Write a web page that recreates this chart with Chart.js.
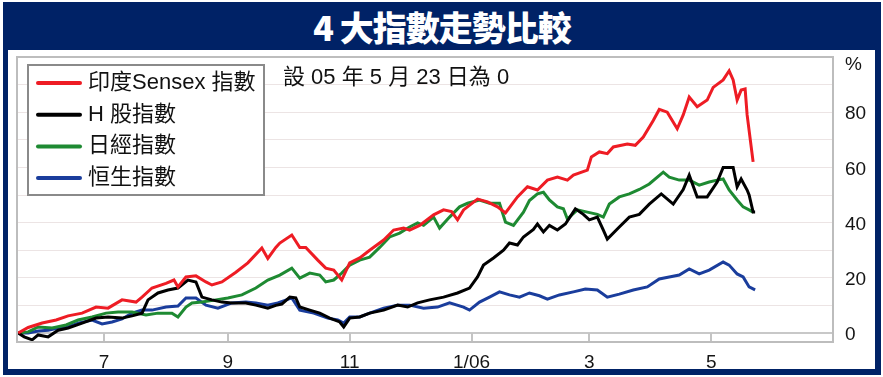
<!DOCTYPE html>
<html lang="zh-Hant">
<head>
<meta charset="utf-8">
<title>4 大指數走勢比較</title>
<script src="https://cdn.jsdelivr.net/npm/chart.js@4.4.1/dist/chart.umd.min.js"></script>
<style>
  html, body { margin: 0; padding: 0; background: #fff; }
  #wrap { position: relative; width: 883px; height: 377px; overflow: hidden; background: #fff; }
  #marco { position: absolute; left: 3px; top: 2px; width: 878px; height: 373px; background: #002266; }
  #interior { position: absolute; left: 8px; top: 50px; width: 867px; height: 319px; background: #fff; }
  #titulo {
    position: absolute; left: 3px; top: 2px; width: 878px; height: 48px;
    line-height: 48px; text-align: center; color: #fff;
    font: 900 34px "Noto Sans CJK TC", sans-serif; letter-spacing: -1px;
  }
  #grafico { position: absolute; left: 0; top: 0; }
</style>
</head>
<body>
<div id="wrap">
  <div id="marco"></div>
  <div id="interior"></div>
  <div id="titulo">4 大指數走勢比較</div>
  <canvas id="grafico" width="883" height="377"></canvas>
</div>
<script>
// days counted from 2005-05-23 (= 0), values in %
let sensexDays = [-4, 1, 8, 15, 21, 28, 35, 41, 48, 55, 58, 63, 70, 74, 76, 80, 85, 90, 93, 98,
  105, 111, 118, 121, 125, 127, 133, 137, 140, 146, 150, 154, 158, 162, 167, 172, 179, 184, 189, 192,
  197, 204, 209, 213, 216, 219, 226, 231, 236, 240, 246, 251, 256, 261, 266, 271, 274, 281, 283, 287,
  291, 294, 301, 305, 309, 314, 317, 321, 326, 329, 332, 336, 341, 344, 349, 352, 354, 356, 358, 360,
  361, 364];
let sensexValues = [0, 2, 3.6, 4.7, 6.2, 7.2, 9.4, 9, 12, 11.2, 13, 16.3, 18, 19.2, 16.7, 20.3, 20.7, 18.5, 17.4, 18.5,
  22, 25.4, 30.8, 27, 31, 32.6, 35.5, 31, 31, 26.4, 23.5, 22.8, 19.2, 25.4, 27.2, 30, 33.7, 37.3, 38, 37.3,
  39, 42.8, 44.6, 44, 41, 44.6, 48.5, 47.5, 45.7, 43.5, 49.3, 53, 51.8, 55.4, 56.5, 55.4, 57.2, 59, 63.8, 65.6,
  65, 67.4, 68.5, 68, 71, 77, 81, 80, 74, 79, 85.5, 82, 84.4, 89, 91.7, 95, 91.7, 84.4, 88, 88.4,
  79, 62];

let hDays = [-4, -1, 3, 6, 11, 16, 21, 28, 35, 41, 48, 53, 58, 61, 66, 71, 76, 81, 85, 88,
  93, 98, 103, 110, 115, 121, 125, 128, 132, 135, 137, 142, 147, 152, 157, 159, 162, 167, 172, 179,
  186, 191, 196, 202, 209, 216, 222, 226, 229, 234, 239, 242, 246, 249, 254, 256, 259, 262, 266, 270,
  275, 279, 282, 286, 289, 291, 297, 302, 307, 312, 318, 324, 329, 332, 336, 341, 346, 349, 354, 356,
  358, 361, 362, 364, 365];
let hValues = [0, -1.4, -2.5, -0.7, -1.4, 1, 1.8, 3.6, 5.4, 5.8, 5.4, 6.2, 7.2, 12, 14.5, 15.6, 16.3, 19.2, 18.5, 13,
  12, 11.2, 10.9, 10.9, 10.1, 9, 10, 10.5, 13, 12.7, 9.4, 8.3, 7.2, 5.4, 4, 2.2, 5.4, 5.8, 7.2, 8.3,
  10.1, 9.4, 10.9, 12, 13, 14.5, 16.3, 20.3, 24.6, 27.2, 30, 32.6, 31.9, 34.8, 37.5, 39.5, 36.6, 39, 37.3, 39.5,
  45, 43, 41, 42, 37.3, 34, 38.4, 42, 43, 46.7, 50.4, 46.7, 52, 57.2, 49.3, 49.3, 54.7, 60, 60, 53,
  55.8, 51.8, 50, 43.8, 43.8];

let nikkeiDays = [-4, 1, 6, 13, 20, 26, 33, 40, 46, 53, 60, 66, 73, 76, 80, 83, 88, 95, 101, 108,
  115, 121, 127, 133, 137, 142, 147, 150, 154, 158, 162, 167, 172, 177, 182, 187, 192, 196, 199, 204,
  207, 212, 217, 221, 227, 232, 237, 240, 244, 249, 252, 256, 259, 262, 266, 269, 271, 276, 281, 286,
  289, 292, 297, 302, 307, 312, 319, 322, 327, 332, 337, 342, 346, 349, 352, 356, 359, 362, 364];
let nikkeiValues = [0, 0.4, 2.2, 1.8, 2.9, 4.7, 5.8, 7.2, 7.6, 7.6, 6.5, 7.2, 7.2, 5.8, 9.4, 10.9, 11.2, 12, 12.7, 13.8,
  16.3, 19.2, 21, 23.5, 19.9, 21.7, 21, 18.5, 19.2, 21.7, 24.6, 26.4, 27.5, 31, 34.8, 36.2, 38.4, 39.9, 39, 42,
  38, 42, 45.7, 47, 48.2, 47, 47, 40.2, 39, 43.8, 48, 50.4, 51, 48.2, 45.7, 45, 41.3, 44.6, 43.8, 43,
  42, 46.7, 49.3, 50.4, 52, 54, 58.3, 56.5, 55.4, 55.4, 53.6, 54.7, 55.4, 55.8, 51.8, 48.2, 45.7, 44.6, 43.8];

let hsiDays = [-4, 1, 6, 11, 16, 21, 26, 33, 38, 43, 48, 53, 58, 63, 70, 76, 80, 85, 90, 96,
  103, 110, 115, 121, 126, 133, 137, 144, 151, 156, 159, 162, 167, 172, 179, 186, 192, 199, 206, 212,
  219, 222, 227, 232, 237, 242, 247, 252, 257, 261, 267, 274, 280, 286, 291, 297, 304, 311, 317, 322,
  327, 332, 337, 342, 349, 352, 356, 359, 362, 365];
let hsiValues = [0, 0, 0.7, 1, 1.8, 2.2, 3.6, 4.7, 3.3, 4, 5.1, 7.2, 8.3, 8.3, 9.4, 9.8, 12.7, 12.7, 10.1, 9,
  10.9, 11.2, 10.9, 10.1, 10.9, 12.7, 8.3, 7.2, 5.4, 4.7, 3.6, 5.8, 5.8, 7.2, 9, 10.1, 10.1, 9, 9.4, 10.9,
  9.4, 8.3, 11.2, 13, 14.9, 13.8, 13, 14.5, 13.5, 12.3, 13.8, 14.9, 15.9, 15.6, 13, 14.1, 15.6, 16.7, 19.6, 20.3,
  21, 23.2, 21.4, 22.8, 25.7, 24.6, 21.4, 20.3, 16.7, 15.6];

let seriesLabels = ['印度Sensex 指數', 'H 股指數', '日經指數', '恒生指數'];
let seriesColors = ['#ee1c24', '#000000', '#1e8a32', '#1a3d9c'];

let xTickDays = [39, 101, 162, 223, 282, 343];
let xTickLabels = ['7', '9', '11', '1/06', '3', '5'];
let yGridValues = [0, 10, 20, 30, 40, 50, 60, 70, 80, 90];
let yLabelValues = [0, 20, 40, 60, 80];
let unidad = '%';
let nota = '設 05 年 5 月 23 日為 0';

/*
  ==================================================
  ===================== DATA ======================
  ==================================================
*/

let juntar = (days, values) => days.map((d, i) => ({ x: d, y: values[i] }));

let datasets = [
  juntar(sensexDays, sensexValues),
  juntar(hDays, hValues),
  juntar(nikkeiDays, nikkeiValues),
  juntar(hsiDays, hsiValues)
].map((data, i) => ({
  label: seriesLabels[i],
  data,
  borderColor: seriesColors[i],
  borderWidth: 3,
  pointRadius: 0,
  tension: 0,
  fill: false
}));

/*
  ==================================================
  ==================== DECORADO ====================
  ==================================================
*/

let fuenteEje = { family: '"Liberation Sans Narrow", "Liberation Sans", Arial, sans-serif', size: 19 };
let fuenteTexto = '22px "Liberation Sans", "Noto Sans CJK TC", sans-serif';

let decorado = {
  id: 'decorado',
  beforeDatasetsDraw(chart) {
    let { ctx, chartArea: ca, scales: { x, y } } = chart;
    let y0 = y.getPixelForValue(0);
    ctx.save();
    ctx.strokeStyle = '#c4c4c4';
    ctx.lineWidth = 2;
    xTickDays.forEach(d => {
      let px = Math.round(x.getPixelForValue(d));
      ctx.beginPath();
      ctx.moveTo(px, y0);
      ctx.lineTo(px, ca.bottom);
      ctx.stroke();
    });
    ctx.restore();
  },
  afterDatasetsDraw(chart) {
    let { ctx, chartArea: ca } = chart;
    ctx.save();

    // marco del grafico
    ctx.strokeStyle = '#bdbdbd';
    ctx.lineWidth = 2;
    ctx.strokeRect(ca.left, ca.top, ca.right - ca.left, ca.bottom - ca.top);

    // leyenda
    let lx = ca.left + 11, ly = ca.top + 8;
    ctx.fillStyle = '#fff';
    ctx.fillRect(lx, ly, 236, 130);
    ctx.strokeStyle = '#8a8a8a';
    ctx.strokeRect(lx, ly, 236, 130);
    ctx.font = fuenteTexto;
    ctx.textBaseline = 'middle';
    ctx.textAlign = 'left';
    chart.data.datasets.forEach((ds, i) => {
      let cy = ly + 18 + i * 31.7;
      ctx.strokeStyle = ds.borderColor;
      ctx.lineWidth = 4;
      ctx.lineCap = 'round';
      ctx.beginPath();
      ctx.moveTo(lx + 10, cy);
      ctx.lineTo(lx + 52, cy);
      ctx.stroke();
      ctx.fillStyle = '#111';
      ctx.fillText(ds.label, lx + 60, cy);
    });

    // nota
    ctx.fillStyle = '#111';
    ctx.fillText(nota, 283, 78);
    ctx.restore();
  }
};

/*
  ==================================================
  ===================== CHART ======================
  ==================================================
*/

let Ecanvas = document.querySelector('#grafico');

let grafico = new Chart(Ecanvas.getContext('2d'), {
  type: 'line',
  data: { datasets },
  options: {
    responsive: false,
    animation: false,
    devicePixelRatio: 1,
    layout: { padding: { left: 17, top: 57, right: 0, bottom: 0 } },
    plugins: {
      legend: { display: false },
      tooltip: { enabled: false }
    },
    scales: {
      x: {
        type: 'linear',
        min: -4.6,
        max: 404,
        afterBuildTicks: axis => { axis.ticks = xTickDays.map(v => ({ value: v })); },
        afterFit: axis => { axis.height = 35; },
        grid: { display: false },
        border: { display: false },
        ticks: {
          autoSkip: false,
          maxRotation: 0,
          padding: 1,
          color: '#151515',
          font: fuenteEje,
          callback: v => {
            let i = xTickDays.indexOf(v);
            return i < 0 ? '' : xTickLabels[i];
          }
        }
      },
      y: {
        position: 'right',
        min: -3.26,
        max: 100,
        afterBuildTicks: axis => { axis.ticks = yGridValues.concat([98]).map(v => ({ value: v })); },
        afterFit: axis => { axis.width = 50; },
        grid: {
          drawTicks: false,
          color: c => c.tick.value === 98 ? 'rgba(0,0,0,0)' : (c.tick.value === 0 ? '#c8c8c8' : '#ece4e4'),
          lineWidth: c => c.tick.value === 0 ? 2 : 1
        },
        border: { display: false },
        ticks: {
          padding: 12,
          labelOffset: 2,
          color: '#151515',
          font: fuenteEje,
          callback: v => v === 98 ? unidad : (yLabelValues.includes(v) ? String(v) : '')
        }
      }
    }
  },
  plugins: [decorado]
});
</script>
</body>
</html>
